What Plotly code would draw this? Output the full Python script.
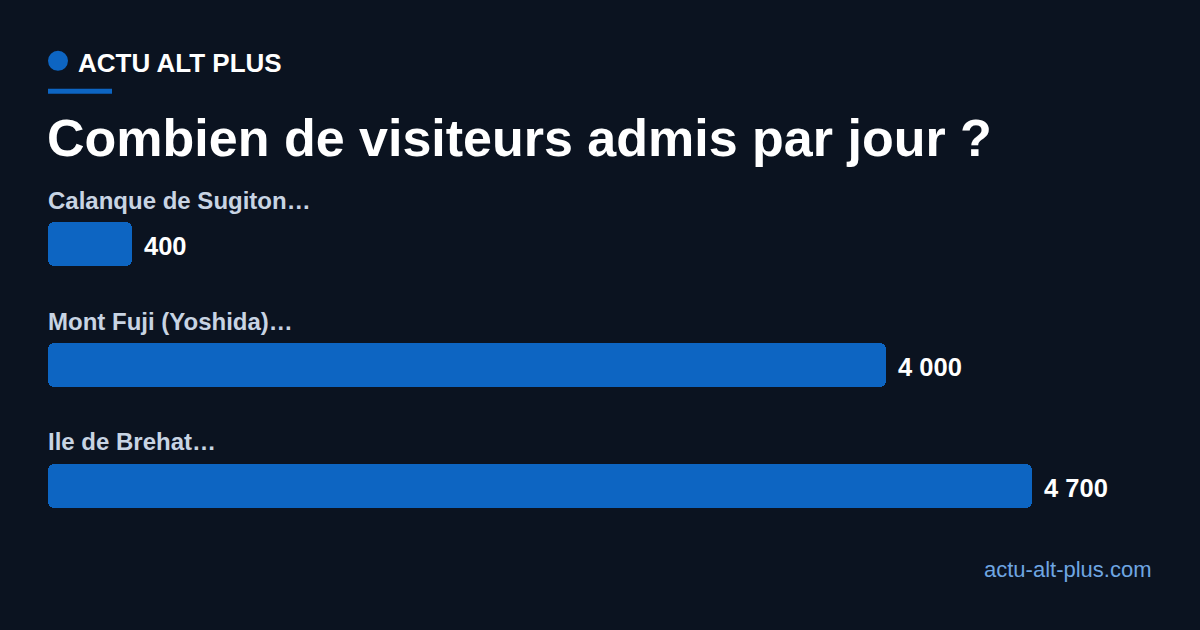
import plotly.graph_objects as go

# ==========================================
# Data
# ==========================================
sites = ["Calanque de Sugiton…", "Mont Fuji (Yoshida)…", "Ile de Brehat…"]
visiteurs = [400, 4000, 4700]

title = "Combien de visiteurs admis par jour ?"
brand = "ACTU ALT PLUS"
footer = "actu-alt-plus.com"

# ==========================================
# Style
# ==========================================
BG = "#0b1320"
BLUE = "#0d65c2"
LABEL = "#c8d4e3"
FONT = "Liberation Sans, Arial, sans-serif"
W, H = 1200, 630
L, R, T, B = 48, 48, 183.5, 83.5
PW, PH = W - L - R, H - T - B


# pixel position -> "paper" coordinates (paper = plot area in plotly)
def px(x):
    return (x - L) / PW


def py(y):
    return (H - B - y) / PH


fig = go.Figure()

# explicit base -> plotly rounds both ends of the bar
fig.add_trace(go.Bar(
    x=visiteurs,
    base=[0] * len(visiteurs),
    y=sites,
    orientation="h",
    width=0.364,
    marker=dict(color=BLUE, line=dict(width=0), cornerradius=6),
    hoverinfo="skip",
))

# category labels above each bar, values right of the bar end
annotations = []
for site, v in zip(sites, visiteurs):
    annotations.append(dict(
        x=0, xref="paper", y=site, yref="y",
        text="<b>" + site + "</b>", showarrow=False,
        xanchor="left", yanchor="middle", xshift=-2, yshift=44,
        font=dict(family=FONT, size=24, color=LABEL),
    ))
    annotations.append(dict(
        x=v, xref="x", y=site, yref="y",
        text="<b>" + f"{v:,}".replace(",", " ") + "</b>", showarrow=False,
        xanchor="left", yanchor="middle", xshift=10, yshift=-2,
        font=dict(family=FONT, size=25.5, color="#ffffff"),
    ))

# header + footer
annotations += [
    dict(x=px(76), y=py(62), xref="paper", yref="paper",
         text="<b>" + brand + "</b>", showarrow=False,
         xanchor="left", yanchor="middle",
         font=dict(family=FONT, size=26, color="#ffffff")),
    dict(x=px(45), y=py(137), xref="paper", yref="paper",
         text="<b>" + title + "</b>", showarrow=False,
         xanchor="left", yanchor="middle",
         font=dict(family=FONT, size=52, color="#ffffff")),
    dict(x=px(1154), y=py(570), xref="paper", yref="paper",
         text=footer, showarrow=False,
         xanchor="right", yanchor="middle",
         font=dict(family=FONT, size=22, color="#6fa6e2")),
]

shapes = [
    dict(type="circle", xref="paper", yref="paper",
         x0=px(48), x1=px(68), y0=py(70), y1=py(50),
         fillcolor=BLUE, line=dict(width=0)),
    dict(type="rect", xref="paper", yref="paper",
         x0=px(48), x1=px(112), y0=py(93), y1=py(88),
         fillcolor=BLUE, line=dict(width=0)),
]

# ==========================================
# Layout
# ==========================================
fig.update_layout(
    width=W, height=H,
    paper_bgcolor=BG, plot_bgcolor=BG,
    margin=dict(l=L, r=R, t=T, b=B, pad=0),
    showlegend=False,
    bargap=0,
    xaxis=dict(range=[0, 5272], visible=False, fixedrange=True),
    yaxis=dict(range=[2.5, -0.5], visible=False, fixedrange=True,
               categoryorder="array", categoryarray=sites),
    annotations=annotations,
    shapes=shapes,
)

fig.write_html(
    "out.html",
    config={"displayModeBar": False},
    post_script="document.body.style.margin='0';document.body.style.background='%s';" % BG,
)
